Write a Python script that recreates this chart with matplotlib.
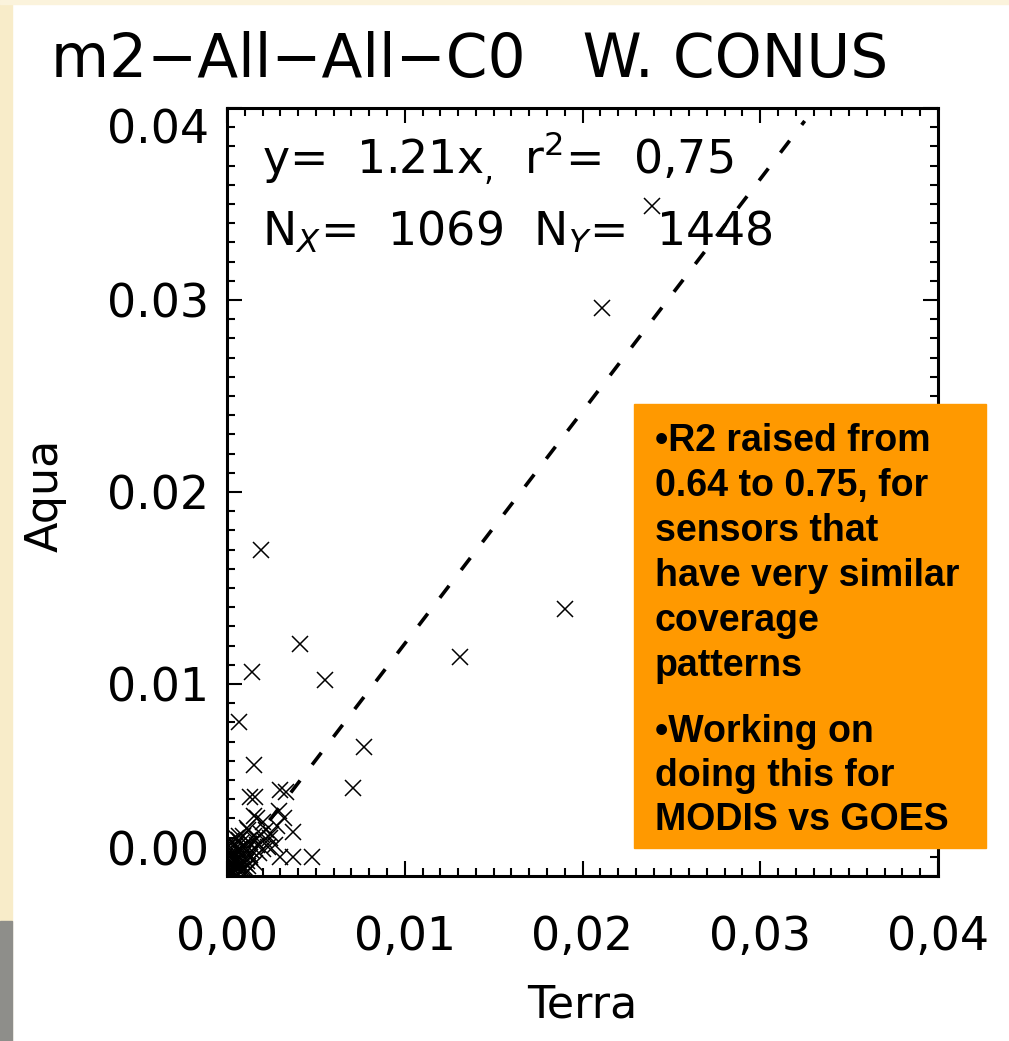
import matplotlib.pyplot as plt
import numpy as np
from matplotlib.patches import Rectangle

# scatter values (Terra vs Aqua)
terra = [0.0239, 0.0211, 0.0190, 0.0131, 0.0019, 0.0041, 0.0014, 0.0055, 0.0007,
         0.0077, 0.0015, 0.0071, 0.0048,
         0.0013, 0.0016, 0.0030, 0.0033, 0.0029, 0.0032, 0.0015, 0.0017, 0.0020,
         0.0037, 0.0024, 0.0027, 0.0030, 0.0037, 0.0009, 0.0005, 0.0022, 0.0012,
         0.0007, 0.0016, 0.0020, 0.0013, 0.0010, 0.0006, 0.0003, 0.0002, 0.0004,
         0.0007, 0.0017, 0.0023, 0.0002, 0.0005, 0.0002, 0.0001, 0.0003, 0.0008,
         0.0012, 0.0016, 0.0005, 0.0001, 0.0009, 0.0011, 0.0004, 0.0006, 0.0002,
         0.0000, 0.0001, 0.0002, 0.0003, 0.0004, 0.0005, 0.0006, 0.0008, 0.0010,
         0.0001, 0.0003, 0.0005, 0.0007, 0.0009, 0.0011, 0.0013, 0.0014, 0.0018,
         0.0000, 0.0002, 0.0004, 0.0006, 0.0008, 0.0010, 0.0012, 0.0015, 0.0019,
         0.0001, 0.0003, 0.0005, 0.0007, 0.0009, 0.0011, 0.0021, 0.0025, 0.0028]
aqua = [0.0349, 0.0296, 0.0139, 0.0114, 0.0170, 0.0121, 0.0106, 0.0102, 0.0080,
        0.0067, 0.0058, 0.0046, 0.0010,
        0.0041, 0.0041, 0.0045, 0.0044, 0.0034, 0.0030, 0.0031, 0.0030, 0.0028,
        0.0023, 0.0020, 0.0016, 0.0010, 0.0010, 0.0015, 0.0020, 0.0024, 0.0024,
        0.0021, 0.0019, 0.0014, 0.0011, 0.0007, 0.0004, 0.0002, 0.0001, 0.0008,
        0.0014, 0.0016, 0.0015, 0.0011, 0.0016, 0.0005, 0.0003, 0.0006, 0.0009,
        0.0005, 0.0007, 0.0000, 0.0000, 0.0003, 0.0002, 0.0012, 0.0009, 0.0018,
        0.0000, 0.0001, 0.0003, 0.0001, 0.0002, 0.0004, 0.0001, 0.0003, 0.0004,
        0.0006, 0.0007, 0.0009, 0.0006, 0.0011, 0.0008, 0.0010, 0.0013, 0.0012,
        0.0009, 0.0012, 0.0010, 0.0013, 0.0017, 0.0015, 0.0018, 0.0021, 0.0022,
        0.0014, 0.0017, 0.0012, 0.0019, 0.0021, 0.0025, 0.0019, 0.0022, 0.0026]

slope = 1.21
fit_x = [0.0, 0.0325]

xticks = [0.00, 0.01, 0.02, 0.03, 0.04]
xlabels = ['0,00', '0,01', '0,02', '0,03', '0,04']
ylabels = ['0.00', '0.01', '0.02', '0.03', '0.04']

title = 'm2\u2212All\u2212All\u2212C0   W. CONUS'
box_lines1 = ['\u2022R2 raised from', '0.64 to 0.75, for', 'sensors that',
              'have very similar', 'coverage', 'patterns']
box_lines2 = ['\u2022Working on', 'doing this for', 'MODIS vs GOES']

W, H = 1009, 1041
fig = plt.figure(figsize=(W / 100, H / 100), dpi=100)
fig.patch.set_facecolor('white')

# slide background strips
fig.add_artist(Rectangle((0, 0), 12 / W, 1, transform=fig.transFigure,
                         color='#f8ecc9', zorder=0))
fig.add_artist(Rectangle((0, 1 - 4 / H), 1, 4 / H, transform=fig.transFigure,
                         color='#fbf3dc', zorder=0))
fig.add_artist(Rectangle((0, 0), 12 / W, 120 / H, transform=fig.transFigure,
                         color='#8e8e8a', zorder=0))

ax = fig.add_axes([227 / W, 1 - 876 / H, 711 / W, 768 / H])
ax.set_xlim(0, 0.04)
ax.set_ylim(0, 0.04)

ax.plot(terra, aqua, linestyle='none', marker='x', ms=11, mew=1.1, color='black')
fx = np.array(fit_x)
ax.plot(fx, slope * fx, color='black', lw=2.6, linestyle=(0, (4.2, 5.5)))

ax.set_xticks(xticks)
ax.set_xticklabels(xlabels)
ax.set_yticks(xticks)
ax.set_yticklabels(ylabels)
ax.xaxis.set_minor_locator(plt.MultipleLocator(0.001))
ax.yaxis.set_minor_locator(plt.MultipleLocator(0.001))
ax.tick_params(which='both', direction='in', top=True, right=True, width=1.5, color='black')
ax.tick_params(which='major', length=11, labelsize=33)
ax.tick_params(which='minor', length=6)
ax.tick_params(axis='x', pad=28)
ax.tick_params(axis='y', pad=13)
for s in ax.spines.values():
    s.set_linewidth(2.2)

ylab = ax.get_yticklabels()
ylab[0].set_va('bottom')
ylab[-1].set_va('top')

ax.text((262 - 227) / 711, 1 - (158 - 108) / 768, 'y=  1.21x$_{,}$  r$^2$=  0,75',
        transform=ax.transAxes, fontsize=33, va='center', ha='left')
ax.text((262 - 227) / 711, 1 - (232 - 108) / 768, 'N$_X$=  1069  N$_Y$=  1448',
        transform=ax.transAxes, fontsize=33, va='center', ha='left')

ax.set_xlabel('Terra', fontsize=32, va='center')
ax.xaxis.set_label_coords((582 - 227) / 711, -(1005 - 876) / 768)
ax.set_ylabel('Aqua', fontsize=32, va='center')
ax.yaxis.set_label_coords(-(227 - 45) / 711, (876 - 495) / 768)

fig.text(470 / W, 1 - 60 / H, title, fontsize=43, ha='center', va='center')

# orange note box
fig.add_artist(Rectangle((634 / W, 1 - 848 / H), 352 / W, 444 / H,
                         transform=fig.transFigure, color='#ff9900', zorder=5))
for i, t in enumerate(box_lines1):
    fig.text(655 / W, 1 - (451 + 45 * i) / H, t, fontsize=27, fontweight='bold',
             family='Liberation Sans', va='baseline', ha='left', zorder=6)
for i, t in enumerate(box_lines2):
    fig.text(655 / W, 1 - (742 + 44 * i) / H, t, fontsize=27, fontweight='bold',
             family='Liberation Sans', va='baseline', ha='left', zorder=6)

fig.savefig('out.png', dpi=100, facecolor=fig.get_facecolor())
